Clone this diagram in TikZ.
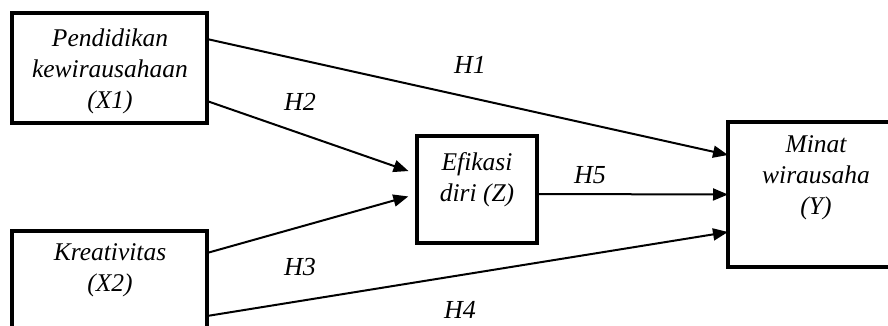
\documentclass[tikz,border=0pt]{standalone}
\usepackage{fontspec}
\setmainfont{Liberation Serif}[ItalicFont={Liberation Serif Italic}, BoldFont={Liberation Serif Bold}]
\usetikzlibrary{arrows.meta}
\begin{document}
\begin{tikzpicture}[x=1pt,y=1pt,
  box/.style={draw, line width=3.6pt, rectangle, outer sep=0pt, inner sep=0pt},
  txt/.style={font=\fontsize{25.5}{31}\selectfont\itshape, align=center, inner sep=0pt},
  lbl/.style={font=\fontsize{26}{28}\selectfont\itshape, inner sep=0pt},
  arr/.style={line width=2pt, -{Triangle[length=15pt,width=12pt]}}
]
\useasboundingbox (0,0) rectangle (888,325);
\clip (0,0) rectangle (888,325);
% boxes
\node[box, minimum width=195pt, minimum height=110pt] (x1) at (109.5,257) {};
\node[box, minimum width=195pt, minimum height=110pt] (x2) at (109.5,39) {};
\node[box, minimum width=120pt, minimum height=107pt] (z) at (477,135.5) {};
\node[box, minimum width=202pt, minimum height=145pt] (y) at (829,130.5) {};
% texts
\node[txt] (x1t) at (110,254) {Pendidikan\\kewirausahaan\\(X1)};
\node[txt] (x2t) at (110,55) {Kreativitas\\(X2)};
\node[txt] (zt) at (477,145) {Efikasi\\diri (Z)};
\node[txt] (yt) at (816,147) {Minat\\wirausaha\\(Y)};
% connectors
\draw[arr] ([yshift=29pt]x1.east) -- ([yshift=39.5pt]y.west);
\draw[arr, shorten >=9pt] ([yshift=-33pt]x1.east) -- ([yshift=15.5pt]z.west);
\draw[arr, shorten >=9pt] ([yshift=33pt]x2.east) -- ([yshift=-4.5pt]z.west);
\draw[arr] ([yshift=-4.5pt]z.east) -- ([yshift=0pt]y.west);
\draw[arr] ([yshift=-30pt]x2.east) -- ([yshift=-37.5pt]y.west);
% labels
\node[lbl] (h1) at (470,260) {H1};
\node[lbl] (h2) at (300,223) {H2};
\node[lbl] (h5) at (590,150) {H5};
\node[lbl] (h3) at (300,58) {H3};
\node[lbl] (h4) at (460,15) {H4};
\end{tikzpicture}
\end{document}
